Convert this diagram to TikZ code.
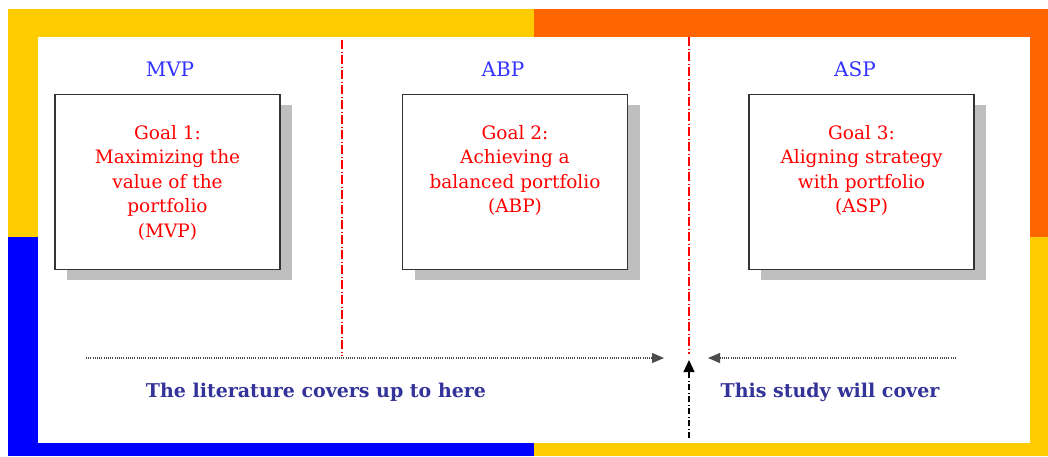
\documentclass[tikz,border=0pt]{standalone}
\usepackage{fontspec}
\setmainfont{DejaVu Serif}
\usetikzlibrary{arrows.meta,shadows,positioning}

\definecolor{frameyellow}{HTML}{FFCC00}
\definecolor{frameorange}{HTML}{FF6600}
\definecolor{frameblue}{HTML}{0000FF}
\definecolor{notenavy}{HTML}{333399}
\definecolor{headblue}{HTML}{3333FF}

\tikzset{
    goal/.style={
        draw=black!80,
        line width=1.2pt,
        fill=white,
        minimum width=225pt,
        minimum height=175pt,
        inner sep=0pt,
        drop shadow={shadow xshift=12pt,shadow yshift=-10pt,fill=black!25,opacity=1}
    },
    goaltext/.style={text=red,align=center,anchor=north,inner sep=0pt,
        font=\fontsize{18.5}{24.5}\selectfont},
    head/.style={text=headblue,font=\fontsize{20}{24}\selectfont},
    note/.style={text=notenavy,font=\bfseries\fontsize{19}{22}\selectfont},
    split/.style={red,line width=1.1pt,dash pattern=on 9pt off 2.5pt on 1pt off 2.5pt},
    reach/.style={black!70,line width=1.1pt,dash pattern=on 1pt off 1.2pt,
        -{Triangle[length=12pt,width=10pt]}},
    pointer/.style={black,line width=1.2pt,dash pattern=on 6pt off 2.5pt on 1pt off 2.5pt,
        -{Triangle[length=12pt,width=11pt]}}
}

\begin{document}
\begin{tikzpicture}[x=1pt,y=-1pt]
    \useasboundingbox (0,0) rectangle (1048,456);
    \fill[white] (0,0) rectangle (1048,456);
    % frame
    \fill[frameyellow] (8,9) rectangle (534,37);
    \fill[frameyellow] (8,9) rectangle (38,237);
    \fill[frameorange] (534,9) rectangle (1048,37);
    \fill[frameorange] (1030,9) rectangle (1048,237);
    \fill[frameblue] (8,237) rectangle (38,456);
    \fill[frameblue] (8,443) rectangle (534,456);
    \fill[frameyellow] (534,443) rectangle (1048,456);
    \fill[frameyellow] (1030,237) rectangle (1048,456);

    % split lines
    \coordinate (splitAtop) at (342,40);
    \coordinate (splitAbot) at (342,356);
    \coordinate (splitBtop) at (689,37);
    \coordinate (splitBbot) at (689,354);
    \draw[split] (splitAtop) -- (splitAbot);
    \draw[split] (splitBtop) -- (splitBbot);

    % goals
    \node[head] (mvp) at (170,69) {MVP};
    \node[head] (abp) at (503,69) {ABP};
    \node[head] (asp) at (855,69) {ASP};

    \node[goal] (goalA) at (167.5,182) {};
    \node[goal] (goalB) at (515,182) {};
    \node[goal] (goalC) at (861.5,182) {};

    \node[goaltext,below=31pt of goalA.north] (textA)
        {Goal 1:\\Maximizing the\\value of the\\portfolio\\(MVP)};
    \node[goaltext,below=31pt of goalB.north] (textB)
        {Goal 2:\\Achieving a\\balanced portfolio\\(ABP)};
    \node[goaltext,below=31pt of goalC.north] (textC)
        {Goal 3:\\Aligning strategy\\with portfolio\\(ASP)};

    % scope arrows
    \coordinate (litstart) at (86,358);
    \coordinate (litend) at (664,358);
    \coordinate (studystart) at (956,358);
    \coordinate (studyend) at (708,358);
    \coordinate (markbase) at (689,438);
    \coordinate (marktip) at (689,360);
    \draw[reach] (litstart) -- (litend);
    \draw[reach] (studystart) -- (studyend);
    \draw[pointer] (markbase) -- (marktip);

    \node[note] (litnote) at (316,392) {The literature covers up to here};
    \node[note] (studynote) at (830,392) {This study will cover};
\end{tikzpicture}
\end{document}
